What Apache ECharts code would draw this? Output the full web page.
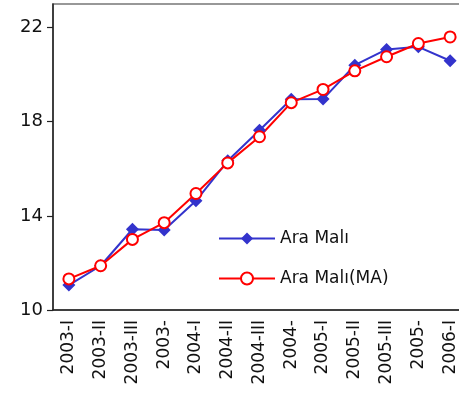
<!DOCTYPE html>
<html><head><meta charset="utf-8">
<script src="https://cdn.jsdelivr.net/npm/echarts@6/dist/echarts.min.js"></script>
<style>html,body{margin:0;padding:0;background:#fff;overflow:hidden;width:459px;height:406px}#c{width:466px;height:406px}</style>
</head><body><div id="c"></div>
<script>
const categories = ["2003-I","2003-II","2003-III","2003-","2004-I","2004-II","2004-III","2004-","2005-I","2005-II","2005-III","2005-","2006-I"];
const araMali = [11.06,11.88,13.43,13.40,14.64,16.34,17.64,18.95,18.96,20.40,21.07,21.18,20.59];
const araMaliMA = [11.32,11.88,13.00,13.71,14.95,16.25,17.36,18.81,19.37,20.16,20.76,21.32,21.60];
const yTicks = [10,14,18,22];
const font = 'DejaVu Sans';
const chart = echarts.init(document.getElementById('c'));
chart.setOption({
  animation:false,
  backgroundColor:'#fff',
  grid:{left:53,top:4,bottom:96,right:0,show:true,borderColor:'#777',borderWidth:1.5},
  legend:{
    left:213,top:225,orient:'vertical',itemGap:23,itemWidth:56,itemHeight:15,
    textStyle:{fontFamily:font,fontSize:17,color:'#111'},
    data:['Ara Malı','Ara Malı(MA)']
  },
  xAxis:{
    type:'category',data:categories,boundaryGap:true,
    axisLine:{lineStyle:{color:'#222',width:1.5}},
    axisTick:{alignWithLabel:false,length:6,lineStyle:{color:'#222',width:1.2}},
    axisLabel:{rotate:90,interval:0,fontFamily:font,fontSize:17,color:'#111',margin:10}
  },
  yAxis:{
    type:'value',min:10,max:23,
    splitLine:{show:false},
    axisLine:{show:true,lineStyle:{color:'#222',width:1.5}},
    axisTick:{show:true,length:6,customValues:yTicks,lineStyle:{color:'#222',width:1.2}},
    axisLabel:{customValues:yTicks,fontFamily:font,fontSize:18,color:'#111',margin:10}
  },
  series:[
    {name:'Ara Malı',type:'line',data:araMali,symbol:'diamond',symbolSize:13,
     lineStyle:{color:'#3333CC',width:2},itemStyle:{color:'#3333CC'}},
    {name:'Ara Malı(MA)',type:'line',data:araMaliMA,symbol:'emptyCircle',symbolSize:11,
     lineStyle:{color:'#FF0000',width:2},itemStyle:{color:'#FF0000',borderWidth:2}}
  ]
});
</script></body></html>
